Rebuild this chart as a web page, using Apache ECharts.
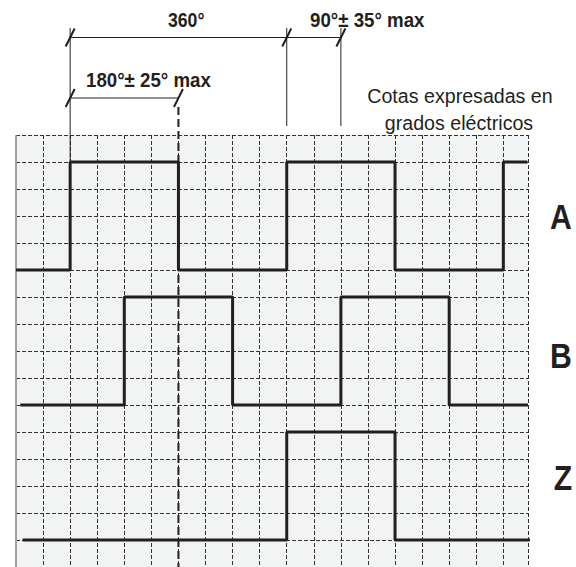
<!DOCTYPE html>
<html>
<head>
<meta charset="utf-8">
<script src="https://cdn.jsdelivr.net/npm/echarts@6/dist/echarts.min.js"></script>
<style>html,body{margin:0;padding:0;background:#fff}#c{width:576px;height:567px}</style>
</head>
<body>
<div id="c"></div>
<script>
// ---- data (x in electrical degrees, level 0 = low, 1 = high) ----
const signalNames = ['A', 'B', 'Z'];
const degA = [0, 90, 270, 450, 630, 810, 850];
const lvlA = [0, 1, 0, 1, 0, 1, 1];
const degB = [7, 180, 360, 540, 720, 851];
const lvlB = [0, 1, 0, 1, 0, 0];
const degZ = [11, 450, 630, 861];
const lvlZ = [0, 1, 0, 0];
// dimensions: [from, to] in degrees
const dimLabels = ['360°', '90°± 35° max', '180°± 25° max'];
const dimFrom = [90, 450, 90];
const dimTo = [450, 540, 270];
const noteLines = ['Cotas expresadas en', 'grados eléctricos'];

// ---- layout ----
const X_MAX = 851, X_STEP = 45, Y_MAX = 16;
const lowRow = [11, 6, 1], amp = 4;
const INK = '#231f20';

const chart = echarts.init(document.getElementById('c'), null, {renderer: 'svg'});

function build(deg, lvl, k) {
  return deg.map((d, i) => [d, lowRow[k] + lvl[i] * amp]);
}
const nV = Math.floor(X_MAX / X_STEP) + 2;
const vColors = [];
for (let i = 0; i < nV; i++) vColors.push(i === 0 ? 'rgba(0,0,0,0)' : '#333333');

const series = [[degA, lvlA], [degB, lvlB], [degZ, lvlZ]].map((s, k) => ({
  name: signalNames[k], type: 'line', step: 'end', symbol: 'none', clip: false,
  data: build(s[0], s[1], k), lineStyle: {color: INK, width: 3}, z: 5,
  animation: false
}));

chart.setOption({
  animation: false,
  grid: {left: 16, right: 48, top: 135, bottom: 0, show: true, backgroundColor: '#f2f3f3',
         borderWidth: 0, containLabel: false, outerBoundsMode: 'none'},
  xAxis: {type: 'value', min: 0, max: X_MAX, interval: X_STEP,
    axisLine: {show: false}, axisTick: {show: false}, axisLabel: {show: false},
    splitLine: {show: true, lineStyle: {color: vColors, width: 1, type: [4, 2]}}},
  yAxis: {type: 'value', min: 0, max: Y_MAX, interval: 1,
    axisLine: {show: true, lineStyle: {color: '#9a9a9a', width: 2, type: [1, 1]}},
    axisTick: {show: false}, axisLabel: {show: false},
    splitLine: {show: true, lineStyle: {color: '#333333', width: 1, type: [4, 2]}}},
  series: series
});

const px = d => chart.convertToPixel({gridIndex: 0}, [d, 0])[0];
const g = [];
const line = (x1, y1, x2, y2, w, dash) => g.push({type: 'line', silent: true, z: 10,
  shape: {x1, y1, x2, y2}, style: {stroke: INK, lineWidth: w, lineDash: dash || null}});
const slash = (x, y) => line(x - 4.5, y + 9, x + 4.5, y - 9, 2);
const text = (t, x, y, font, sx, align) => g.push({type: 'text', silent: true, z: 10, x, y, scaleX: sx,
  style: {text: t, font, fill: INK, align: align || 'left', verticalAlign: 'middle'}});

const yTop = 37.5, y180 = 98;
// 360 dimension + 90 dimension (same line)
line(px(dimFrom[0]), yTop, px(dimTo[1]), yTop, 1);
line(px(dimFrom[0]), 28, px(dimFrom[0]), 162, 1);
line(px(dimTo[0]), 28, px(dimTo[0]), 126, 1);
line(px(dimTo[1]), 28, px(dimTo[1]), 126, 1);
slash(px(dimFrom[0]), yTop); slash(px(dimTo[0]), yTop); slash(px(dimTo[1]), yTop);
// 180 dimension
line(px(dimFrom[2]), y180, px(dimTo[2]), y180, 1);
slash(px(dimFrom[2]), y180); slash(px(dimTo[2]), y180);
line(px(dimTo[2]), 107, px(dimTo[2]), 567, 2, [8, 4]);

const bold = 'bold 21px "Liberation Sans", Arial, sans-serif';
text(dimLabels[0], 168, 19.5, bold, 0.84);
text(dimLabels[1], 310, 19.5, bold, 0.89);
text(dimLabels[2], 86, 80, bold, 0.89);
const reg = '21px "Liberation Sans", Arial, sans-serif';
text(noteLines[0], 460, 96, reg, 0.935, 'center');
text(noteLines[1], 459, 122.5, reg, 0.935, 'center');
const big = 'bold 36px "Liberation Sans", Arial, sans-serif';
text(signalNames[0], 561, 217, big, 0.84, 'center');
text(signalNames[1], 561, 356, big, 0.84, 'center');
text(signalNames[2], 563, 478, big, 0.84, 'center');

chart.setOption({graphic: {elements: g}});
</script>
</body>
</html>
